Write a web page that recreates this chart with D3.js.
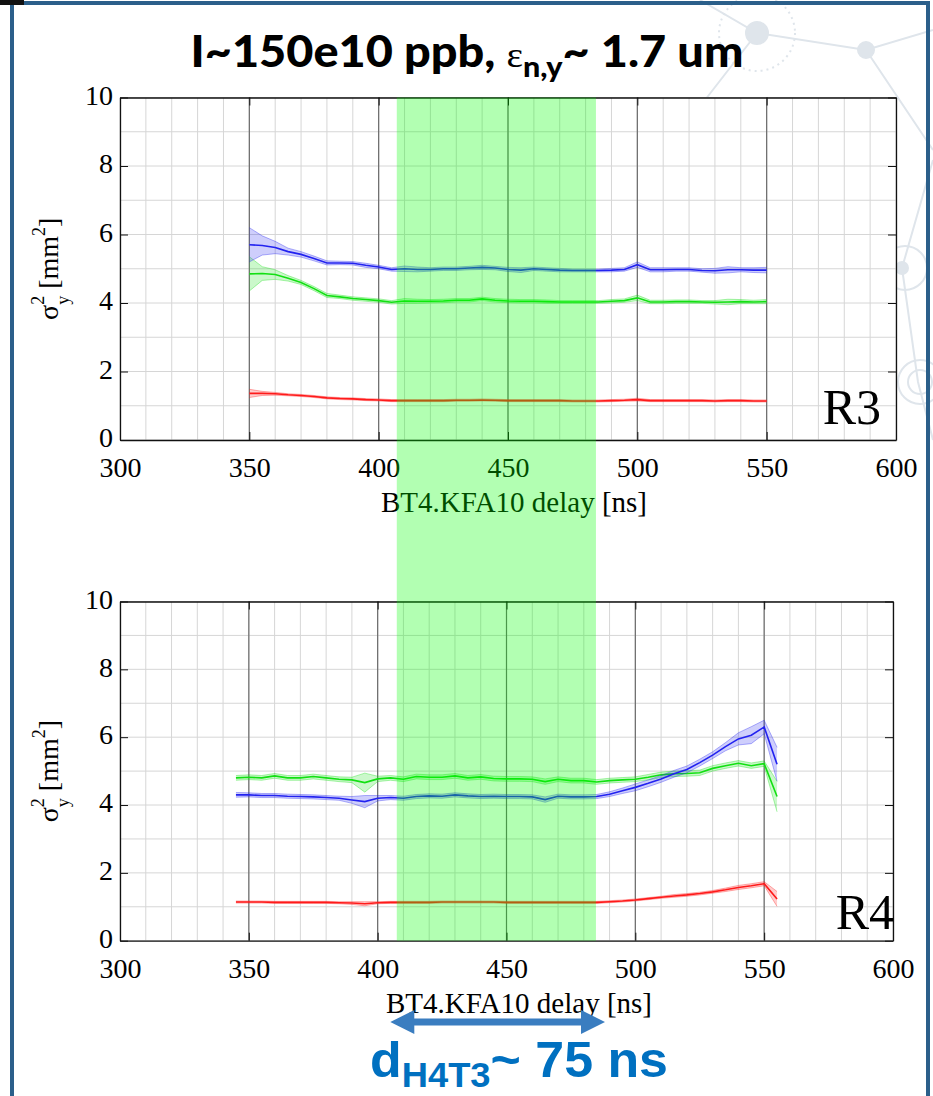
<html>
<head>
<script src="https://d3js.org/d3.v7.min.js"></script>
<style>
  body { margin: 0; background: #fff; }
  svg { display: block; }
</style>
</head>
<body>
<svg id="chart" width="933" height="1096"></svg>
<script>
// ---- data ----
const delayR3 = [350,355,360,365,370,375,380,385,390,395,400,405,410,415,420,425,430,435,440,445,
  450,455,460,465,470,475,480,485,490,495,500,505,510,515,520,525,530,535,540,545,550];
const blueR3 = [5.70,5.68,5.62,5.50,5.42,5.30,5.17,5.17,5.16,5.10,5.05,4.98,5.00,4.98,4.98,5.00,5.00,5.02,5.04,5.02,
  4.98,4.96,5.00,4.98,4.96,4.95,4.95,4.95,4.96,4.98,5.12,4.97,4.97,4.98,4.98,4.95,4.94,4.97,4.97,4.96,4.96];
const blueR3Err = [0.50,0.28,0.18,0.10,0.08,0.07,0.06,0.05,0.05,0.06,0.05,0.05,0.08,0.07,0.05,0.05,0.05,0.05,0.06,0.05,
  0.06,0.07,0.05,0.05,0.05,0.04,0.04,0.04,0.05,0.05,0.08,0.06,0.06,0.05,0.05,0.05,0.07,0.09,0.06,0.07,0.08];
const greenR3 = [4.85,4.86,4.83,4.72,4.60,4.42,4.22,4.18,4.13,4.10,4.07,4.02,4.06,4.05,4.05,4.06,4.08,4.08,4.12,4.08,
  4.06,4.05,4.05,4.04,4.03,4.03,4.03,4.03,4.05,4.07,4.15,4.03,4.03,4.04,4.04,4.03,4.02,4.03,4.04,4.03,4.04];
const greenR3Err = [0.50,0.20,0.14,0.08,0.06,0.06,0.06,0.05,0.05,0.05,0.05,0.05,0.07,0.06,0.05,0.05,0.05,0.05,0.05,0.05,
  0.05,0.05,0.05,0.05,0.04,0.04,0.04,0.04,0.05,0.05,0.08,0.05,0.05,0.05,0.05,0.04,0.05,0.08,0.06,0.05,0.06];
const redR3 = [1.36,1.36,1.35,1.32,1.30,1.27,1.23,1.21,1.20,1.18,1.17,1.15,1.15,1.15,1.15,1.15,1.16,1.16,1.17,1.16,
  1.15,1.15,1.15,1.15,1.15,1.14,1.14,1.14,1.15,1.16,1.18,1.15,1.15,1.15,1.15,1.15,1.14,1.15,1.15,1.14,1.14];
const redR3Err = [0.12,0.06,0.04,0.03,0.03,0.03,0.03,0.03,0.03,0.03,0.03,0.03,0.03,0.03,0.03,0.03,0.03,0.03,0.03,0.03,
  0.03,0.03,0.03,0.03,0.03,0.03,0.03,0.03,0.03,0.03,0.04,0.03,0.03,0.03,0.03,0.03,0.03,0.03,0.03,0.03,0.03];

const delayR4 = [345,350,355,360,365,370,375,380,385,390,395,400,405,410,415,420,425,430,435,440,445,
  450,455,460,465,470,475,480,485,490,495,500,505,510,515,520,525,530,535,540,545,550,555];
const blueR4 = [4.30,4.30,4.28,4.28,4.26,4.25,4.24,4.22,4.20,4.15,4.10,4.20,4.22,4.20,4.25,4.27,4.26,4.30,4.27,4.25,4.26,
  4.25,4.25,4.24,4.16,4.26,4.24,4.24,4.25,4.32,4.42,4.52,4.64,4.77,4.92,5.05,5.25,5.47,5.72,5.95,6.06,6.30,5.20];
const blueR4Err = [0.07,0.06,0.06,0.06,0.06,0.06,0.06,0.06,0.06,0.10,0.18,0.08,0.06,0.06,0.06,0.06,0.06,0.06,0.06,0.06,0.06,
  0.06,0.06,0.06,0.08,0.06,0.06,0.06,0.06,0.07,0.08,0.10,0.10,0.10,0.10,0.10,0.10,0.10,0.12,0.18,0.25,0.20,0.50];
const greenR4 = [4.80,4.82,4.80,4.86,4.80,4.80,4.84,4.80,4.76,4.74,4.66,4.77,4.80,4.76,4.84,4.82,4.82,4.86,4.80,4.83,4.78,
  4.77,4.77,4.76,4.69,4.76,4.72,4.72,4.68,4.72,4.74,4.76,4.82,4.89,4.92,4.93,4.95,5.08,5.16,5.23,5.16,5.22,4.25];
const greenR4Err = [0.07,0.07,0.07,0.07,0.07,0.07,0.07,0.07,0.07,0.08,0.28,0.08,0.07,0.07,0.07,0.07,0.07,0.07,0.07,0.07,0.07,
  0.07,0.07,0.07,0.08,0.07,0.07,0.07,0.07,0.07,0.07,0.07,0.08,0.08,0.08,0.08,0.08,0.08,0.08,0.08,0.08,0.08,0.45];
const redR4 = [1.14,1.14,1.14,1.13,1.13,1.13,1.13,1.13,1.12,1.11,1.09,1.12,1.13,1.13,1.13,1.13,1.14,1.14,1.14,1.14,1.14,
  1.13,1.13,1.13,1.13,1.13,1.13,1.13,1.13,1.15,1.17,1.20,1.24,1.28,1.32,1.35,1.39,1.44,1.50,1.57,1.62,1.68,1.23];
const redR4Err = [0.03,0.03,0.03,0.03,0.03,0.03,0.03,0.03,0.03,0.04,0.06,0.03,0.03,0.03,0.03,0.03,0.03,0.03,0.03,0.03,0.03,
  0.03,0.03,0.03,0.03,0.03,0.03,0.03,0.03,0.03,0.03,0.03,0.03,0.03,0.04,0.04,0.04,0.04,0.05,0.06,0.06,0.06,0.22];

const xTicks = [300,350,400,450,500,550,600];
const yTicks = [0,2,4,6,8,10];
const bandRange = [407, 484];     // green window
const arrowRange = [404.5, 487.5]; // d_H4T3 arrow, in delay units

const svg = d3.select("#chart");
const serif = "'Liberation Serif', 'Times New Roman', serif";

// ---- slide background ----
const deco = svg.append("g").attr("stroke", "#dfe5eb").attr("fill", "none").attr("stroke-width", 2);
deco.append("path").attr("d", "M700,0 L757,33 L866,50 L933,30 M757,33 L705,100 M866,50 L933,150 M933,160 L902,268 L918,382 L933,440");
deco.append("circle").attr("cx", 757).attr("cy", 33).attr("r", 38).attr("stroke-dasharray", "2,4");
deco.append("circle").attr("cx", 757).attr("cy", 33).attr("r", 11).attr("fill", "#dfe5eb");
deco.append("circle").attr("cx", 866).attr("cy", 50).attr("r", 8).attr("fill", "#dfe5eb");
deco.append("circle").attr("cx", 905).attr("cy", 268).attr("r", 22);
deco.append("circle").attr("cx", 902).attr("cy", 268).attr("r", 6).attr("fill", "#dfe5eb");
deco.append("circle").attr("cx", 920).attr("cy", 382).attr("r", 22);
deco.append("circle").attr("cx", 920).attr("cy", 382).attr("r", 12);

svg.append("rect").attr("x", 12).attr("y", 3).attr("width", 916).attr("height", 1100)
  .attr("fill", "none").attr("stroke", "#2b5f8a").attr("stroke-width", 4);
svg.append("rect").attr("x", 0).attr("y", 0).attr("width", 24).attr("height", 5).attr("fill", "#111");

// ---- one panel ----
function panel(top, bottom, right, delays, series, tag, tagX, tagY, labelX) {
  const x = d3.scaleLinear().domain([300, 600]).range([120, right]);
  const y = d3.scaleLinear().domain([0, 10]).range([bottom, top]);
  const g = svg.append("g");

  g.append("rect").attr("x", 120).attr("y", top).attr("width", right - 120).attr("height", bottom - top).attr("fill", "#fff");

  // minor grid
  g.selectAll(".vg").data(x.ticks(30)).enter().append("line")
    .attr("x1", d => x(d)).attr("x2", d => x(d)).attr("y1", top).attr("y2", bottom)
    .attr("stroke", "#d6d6d6").attr("stroke-width", 1);
  g.selectAll(".hg").data(y.ticks(10)).enter().append("line")
    .attr("x1", 120).attr("x2", right).attr("y1", d => y(d)).attr("y2", d => y(d))
    .attr("stroke", "#d6d6d6").attr("stroke-width", 1);
  // major vertical lines
  g.selectAll(".mg").data(xTicks.slice(1, -1)).enter().append("line")
    .attr("x1", d => x(d)).attr("x2", d => x(d)).attr("y1", top).attr("y2", bottom)
    .attr("stroke", "#6a6a6a").attr("stroke-width", 1.2);

  // shaded error bars
  series.forEach(function(s) {
    const area = d3.area()
      .x((d, i) => x(delays[i]))
      .y0((d, i) => y(d - s.err[i]))
      .y1((d, i) => y(d + s.err[i]));
    g.append("path").datum(s.mean).attr("d", area).attr("fill", s.color).attr("fill-opacity", 0.22);
    [-1, 1].forEach(function(k) {
      const edge = d3.line().x((d, i) => x(delays[i])).y((d, i) => y(d + k * s.err[i]));
      g.append("path").datum(s.mean).attr("d", edge).attr("fill", "none")
        .attr("stroke", s.color).attr("stroke-opacity", 0.35).attr("stroke-width", 1);
    });
    const line = d3.line().x((d, i) => x(delays[i])).y(d => y(d));
    g.append("path").datum(s.mean).attr("d", line).attr("fill", "none")
      .attr("stroke", s.color).attr("stroke-width", 1.6);
  });

  // axes (inward ticks, box)
  const left = g.append("g").attr("transform", "translate(120,0)")
    .call(d3.axisLeft(y).tickValues(yTicks).tickSize(-8).tickSizeOuter(0).tickPadding(7));
  const rightAx = g.append("g").attr("transform", `translate(${right},0)`)
    .call(d3.axisRight(y).tickValues(yTicks).tickSize(-8).tickSizeOuter(0).tickFormat(""));
  const bottomAx = g.append("g").attr("transform", `translate(0,${bottom})`)
    .call(d3.axisBottom(x).tickValues(xTicks).tickSize(-8).tickSizeOuter(0).tickPadding(17));
  const topAx = g.append("g").attr("transform", `translate(0,${top})`)
    .call(d3.axisTop(x).tickValues(xTicks).tickSize(-8).tickSizeOuter(0).tickFormat(""));
  [left, rightAx, bottomAx, topAx].forEach(a => {
    a.attr("font-family", serif).attr("font-size", 28);
    a.select(".domain").attr("stroke", "#111").attr("stroke-width", 1.3);
    a.selectAll(".tick line").attr("stroke", "#111");
    a.selectAll(".tick text").attr("fill", "#000");
  });
  left.selectAll(".tick text").attr("dy", "0.24em");

  // axis labels
  g.append("text").attr("x", labelX).attr("y", bottom + 72).attr("text-anchor", "middle")
    .attr("font-family", serif).attr("font-size", 29).text("BT4.KFA10 delay [ns]");

  const yl = g.append("text").attr("transform", `translate(58,${(top + bottom) / 2}) rotate(-90)`)
    .attr("text-anchor", "middle").attr("font-family", serif).attr("font-size", 28);
  yl.append("tspan").text("σ");
  yl.append("tspan").attr("font-size", 18).attr("dy", -14).text("2");
  yl.append("tspan").attr("font-size", 18).attr("dx", -9).attr("dy", 25).text("y");
  yl.append("tspan").attr("dy", -11).text(" [mm");
  yl.append("tspan").attr("font-size", 18).attr("dy", -13).text("2");
  yl.append("tspan").attr("dy", 13).text("]");

  g.append("text").attr("x", tagX).attr("y", tagY).attr("text-anchor", "end")
    .attr("font-family", serif).attr("font-size", 50).text(tag);
  return x;
}

const xR3 = panel(97.5, 440, 896, delayR3, [
  { mean: redR3, err: redR3Err, color: "#ff1a1a" },
  { mean: greenR3, err: greenR3Err, color: "#12e012" },
  { mean: blueR3, err: blueR3Err, color: "#2222f0" }
], "R3", 881, 424, 514);

panel(601.5, 940.7, 893, delayR4, [
  { mean: redR4, err: redR4Err, color: "#ff1a1a" },
  { mean: greenR4, err: greenR4Err, color: "#12e012" },
  { mean: blueR4, err: blueR4Err, color: "#2222f0" }
], "R4", 894, 929, 519);

// green window across both panels
svg.append("rect").attr("x", xR3(bandRange[0])).attr("y", 97.5)
  .attr("width", xR3(bandRange[1]) - xR3(bandRange[0])).attr("height", 940.7 - 97.5)
  .attr("fill", "rgb(0,255,0)").attr("fill-opacity", 0.3);

// ---- title ----
function fit(sel, cx, width) {
  const w = sel.node().getBBox().width;
  sel.attr("transform", `translate(${cx},0) scale(${width / w},1) translate(${-cx},0)`);
}
const title = svg.append("text").attr("x", 467).attr("y", 67).attr("text-anchor", "middle")
  .attr("font-family", "Lato, 'Open Sans', sans-serif").attr("font-weight", 900).attr("font-size", 43).attr("fill", "#000");
title.append("tspan").text("I~150e10 ppb, ");
title.append("tspan").attr("font-family", serif).attr("font-weight", 400).attr("font-size", 36).text("ε");
title.append("tspan").attr("font-size", 28).attr("dy", 10).text("n,y");
title.append("tspan").attr("dy", -10).text("~ 1.7 um");
fit(title, 467, 553);

// ---- bottom annotation ----
const y0 = 1022, L = xR3(arrowRange[0]), R = xR3(arrowRange[1]);
svg.append("path")
  .attr("d", `M${L},${y0} L${L + 24},${y0 - 12} L${L + 24},${y0 - 3.4} L${R - 24},${y0 - 3.4} L${R - 24},${y0 - 12} L${R},${y0} L${R - 24},${y0 + 12} L${R - 24},${y0 + 3.4} L${L + 24},${y0 + 3.4} L${L + 24},${y0 + 12} Z`)
  .attr("fill", "#3a7dc0");

const note = svg.append("text").attr("x", 519).attr("y", 1077).attr("text-anchor", "middle")
  .attr("font-family", "'Liberation Sans', Arial, sans-serif").attr("font-weight", 700)
  .attr("font-size", 50).attr("fill", "#0070c0");
note.append("tspan").text("d");
note.append("tspan").attr("font-size", 35).attr("dy", 10).text("H4T3");
note.append("tspan").attr("dy", -10).text("~ 75 ns");
fit(note, 519, 298);
</script>
</body>
</html>
